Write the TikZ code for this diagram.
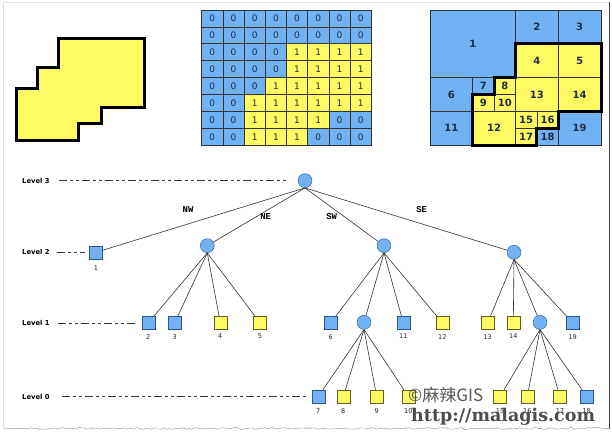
\documentclass[tikz,border=0pt]{standalone}
\usepackage{fontspec}
\setmainfont{DejaVu Sans}
\newfontfamily\cjkfont{Noto Sans CJK SC}
\newfontfamily\slabfont{DejaVu Serif}
\newfontfamily\dirfont{Liberation Mono}
\usetikzlibrary{decorations.pathmorphing}

\definecolor{cell0}{RGB}{112,178,244}
\definecolor{cell1}{RGB}{255,250,98}
\definecolor{edge0}{RGB}{45,85,135}
\definecolor{edge1}{RGB}{95,95,35}
\definecolor{digit}{RGB}{30,45,70}

\begin{document}
\begin{tikzpicture}[x=1pt,y=-1pt,
    inner/.style={circle,draw=edge0,fill=cell0,minimum size=14pt,inner sep=0pt},
    leaf0/.style={rectangle,draw=edge0,fill=cell0,minimum size=13pt,inner sep=0pt},
    leaf1/.style={rectangle,draw=edge1,fill=cell1,minimum size=13pt,inner sep=0pt},
    branch/.style={draw=black!80,line width=0.6pt},
    levelline/.style={draw=black!80,line width=0.6pt,dash pattern=on 8pt off 3pt on 3pt off 3pt on 3pt off 3pt},
    levellabel/.style={anchor=west,inner sep=0pt,font={\bfseries\fontsize{6.8}{6.8}\selectfont}},
    leaflabel/.style={inner sep=0pt,font={\fontsize{6.5}{6.5}\selectfont},text=black!85},
    dirlabel/.style={inner sep=0pt,font={\dirfont\bfseries\fontsize{9}{9}\selectfont}},
    gridnum/.style={inner sep=0pt,font={\fontsize{9}{9}\selectfont},text=digit},
    quadnum/.style={inner sep=0pt,font={\bfseries\fontsize{10}{10}\selectfont},text=digit}]
  \useasboundingbox (0,0) rectangle (612,441);
  % frame
  \draw[black!12] (3.5,428) -- (3.5,2) -- (609.5,2);
  \draw[black!75,line width=0.9pt] (609.5,2) -- (609.5,429);
  \draw[black!45,decorate,decoration={random steps,segment length=2.5pt,amplitude=0.9pt}] (4,428.5) -- (609,428.5);

  % polygon
  \draw[line width=3pt,fill=cell1,line join=miter] (58.3,38.3) -- (144,38.3) -- (144,107.3) -- (101,107.3)
    -- (101,123.3) -- (78.3,123.3) -- (78.3,140) -- (16.7,140) -- (16.7,88.3) -- (37.7,88.3)
    -- (37.7,67.7) -- (58.3,67.7) -- cycle;

  % raster
  \foreach \row [count=\rw from 0] in {{0,0,0,0,0,0,0,0},{0,0,0,0,0,0,0,0},{0,0,0,0,1,1,1,1},
      {0,0,0,0,1,1,1,1},{0,0,0,1,1,1,1,1},{0,0,1,1,1,1,1,1},{0,0,1,1,1,1,0,0},{0,0,1,1,1,0,0,0}} {
    \foreach \val [count=\col from 0] in \row {
      \draw[fill=cell\val,draw=black!80,line width=0.7pt] ({201.7+21.2*\col},{10+16.9*\rw}) rectangle ++(21.2,16.9);
      \node[gridnum] (g\rw\col) at ({212.3+21.2*\col},{18.45+16.9*\rw}) {\val};
    }
  }

  % quadtree blocks
  \begin{scope}[shift={(430,10)},x=21.375pt,y=-16.875pt]
    \foreach \xa/\ya/\xb/\yb/\val/\n in {0/0/4/4/0/1,4/0/6/2/0/2,6/0/8/2/0/3,4/2/6/4/1/4,6/2/8/4/1/5,
        0/4/2/6/0/6,2/4/3/5/0/7,3/4/4/5/1/8,2/5/3/6/1/9,3/5/4/6/1/10,0/6/2/8/0/11,2/6/4/8/1/12,
        4/4/6/6/1/13,6/4/8/6/1/14,4/6/5/7/1/15,5/6/6/7/1/16,4/7/5/8/1/17,5/7/6/8/0/18,6/6/8/8/0/19} {
      \draw[fill=cell\val,draw=black!80,line width=0.6pt] (\xa,\ya) rectangle (\xb,\yb);
      \node[quadnum] (q\n) at ({(\xa+\xb)/2},{(\ya+\yb)/2}) {\n};
    }
    \draw[line width=3pt,line join=miter] (4,2) -- (8,2) -- (8,6) -- (6,6) -- (6,7) -- (5,7) -- (5,8)
      -- (2,8) -- (2,5) -- (3,5) -- (3,4) -- (4,4) -- cycle;
  \end{scope}

  % tree
  \node[inner] (root) at (305,180.7) {};
  \node[leaf0,label={[leaflabel,label distance=7pt]below:1}] (n1) at (96,252.3) {};
  \node[inner] (ne) at (207.3,245.7) {};
  \node[inner] (sw) at (384,245.7) {};
  \node[inner] (se) at (514,252.3) {};
  \node[inner] (swne) at (364,322.3) {};
  \node[inner] (sesw) at (540,322.3) {};
  \foreach \n/\x/\val in {2/148.3/0,3/174.7/0,4/220.3/1,5/260/1,6/330.7/0,11/403.3/0,12/442.3/1,
      13/487.7/1,14/513.3/1,19/572.7/0}
    \node[leaf\val,label={[leaflabel,label distance=4.5pt]below:\n}] (n\n) at (\x,322.8) {};
  \foreach \n/\x/\val in {7/318.3/0,8/343.3/1,9/376.7/1,10/408.3/1,15/500/1,16/527.3/1,17/560/1,18/586.7/0}
    \node[leaf\val,label={[leaflabel,label distance=5pt]below:\n}] (n\n) at (\x,396.5) {};
  \foreach \p/\q in {root/n1,root/ne,root/sw,root/se,ne/n2,ne/n3,ne/n4,ne/n5,sw/n6,sw/swne,sw/n11,sw/n12,
      se/n13,se/n14,se/sesw,se/n19,swne/n7,swne/n8,swne/n9,swne/n10,sesw/n15,sesw/n16,sesw/n17,sesw/n18}
    \draw[branch] (\p.south) -- (\q);

  \node[dirlabel] (dnw) at (188,210) {NW};
  \node[dirlabel] (dne) at (265.7,216.7) {NE};
  \node[dirlabel] (dsw) at (331.7,216.7) {SW};
  \node[dirlabel] (dse) at (421.7,210) {SE};

  % levels
  \node[levellabel] (lv3) at (22,180.7) {Level 3};
  \node[levellabel] (lv2) at (22,252.3) {Level 2};
  \node[levellabel] (lv1) at (22,322.8) {Level 1};
  \node[levellabel] (lv0) at (22,396.5) {Level 0};
  \draw[levelline] ([xshift=9pt]lv3.east) -- ([xshift=-11pt]root.west);
  \draw[levelline] ([xshift=7pt]lv2.east) -- ([xshift=-4.5pt]n1.west);
  \draw[levelline] ([xshift=8pt]lv1.east) -- ([xshift=-5pt]n2.west);
  \draw[levelline] ([xshift=12pt]lv0.east) -- ([xshift=-5pt]n7.west);

  % watermark
  \node[anchor=west,inner sep=0pt,font={\cjkfont\fontsize{17}{17}\selectfont},text=black!65] (wm1) at (408,395) {©麻辣GIS};
  \node[anchor=west,inner sep=0pt,font={\slabfont\bfseries\fontsize{17.5}{17.5}\selectfont},text=black!70] (wm2) at (411,417) {http://malagis.com};
\end{tikzpicture}
\end{document}
